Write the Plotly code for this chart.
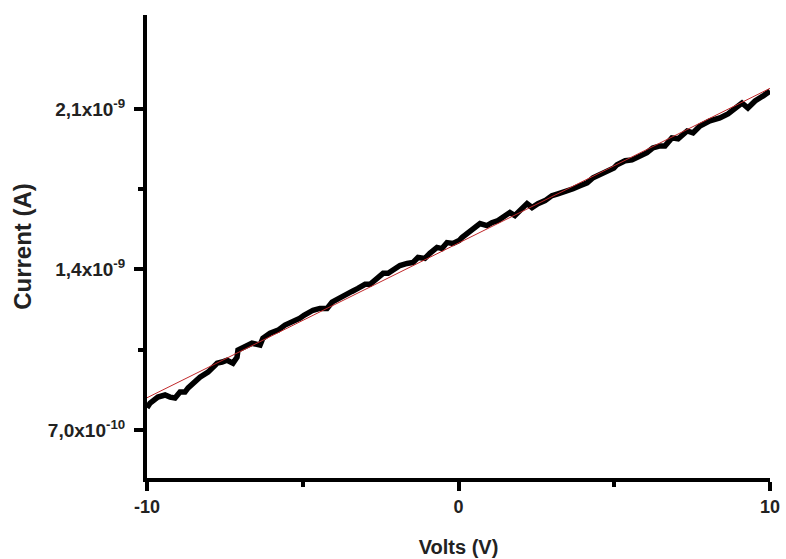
import plotly.graph_objects as go

# Measured I-V data (volts, current in A)
volts = [-10.0, -9.90, -9.65, -9.42, -9.26, -9.10, -8.94, -8.78, -8.68, -8.52,
         -8.30, -8.04, -7.75, -7.59, -7.43, -7.24, -7.11, -7.08, -6.85, -6.63,
         -6.37, -6.28, -6.05, -5.79, -5.57, -5.31, -5.09, -4.96, -4.86, -4.67,
         -4.45, -4.22, -4.06, -3.80, -3.58, -3.42, -3.23, -3.00, -2.84, -2.62,
         -2.42, -2.26, -2.10, -1.88, -1.65, -1.46, -1.30, -1.08, -0.92, -0.69,
         -0.53, -0.37, -0.18, 0.02, 0.11, 0.30, 0.47, 0.69, 0.91, 1.07,
         1.27, 1.49, 1.65, 1.81, 2.04, 2.20, 2.36, 2.55, 2.78, 3.00,
         3.19, 3.42, 3.68, 3.90, 4.13, 4.32, 4.61, 4.80, 4.99, 5.09,
         5.35, 5.57, 5.83, 6.05, 6.24, 6.47, 6.63, 6.85, 7.05, 7.34,
         7.53, 7.75, 8.07, 8.39, 8.65, 8.88, 9.10, 9.29, 9.52, 9.78, 10.0]
current_nA = [0.796, 0.817, 0.843, 0.852, 0.843, 0.839, 0.865, 0.865, 0.883, 0.904,
              0.930, 0.952, 0.991, 0.996, 1.004, 0.991, 1.017, 1.048, 1.061, 1.078,
              1.070, 1.100, 1.122, 1.135, 1.157, 1.170, 1.187, 1.200, 1.209, 1.222,
              1.230, 1.230, 1.257, 1.274, 1.287, 1.304, 1.317, 1.335, 1.335, 1.361,
              1.383, 1.383, 1.396, 1.417, 1.426, 1.430, 1.452, 1.448, 1.470, 1.496,
              1.491, 1.517, 1.513, 1.526, 1.539, 1.561, 1.578, 1.600, 1.591, 1.604,
              1.613, 1.635, 1.648, 1.635, 1.665, 1.687, 1.670, 1.687, 1.700, 1.722,
              1.730, 1.739, 1.752, 1.765, 1.778, 1.800, 1.817, 1.830, 1.843, 1.857,
              1.874, 1.878, 1.896, 1.909, 1.930, 1.939, 1.939, 1.974, 1.970, 2.004,
              1.996, 2.026, 2.048, 2.061, 2.078, 2.100, 2.126, 2.104, 2.135, 2.157, 2.178]
current = [v * 1e-9 for v in current_nA]

# Linear fit endpoints
fit_volts = [-10.0, 10.0]
fit_current = [0.84e-9, 2.19e-9]

# Axis ticks
x_ticks = [-10, 0, 10]
x_minor = [-5, 5]
y_ticks = [7.0e-10, 1.4e-9, 2.1e-9]
y_ticktext = ["7,0x10<sup>-10</sup>", "1,4x10<sup>-9</sup>", "2,1x10<sup>-9</sup>"]
y_minor = [1.05e-9, 1.75e-9]

FONT = "Liberation Sans, Arial, sans-serif"

fig = go.Figure()
fig.add_trace(go.Scatter(x=volts, y=current, mode="lines",
                         line=dict(color="black", width=5.5), showlegend=False))
fig.add_trace(go.Scatter(x=fit_volts, y=fit_current, mode="lines",
                         line=dict(color="#c0282a", width=1), showlegend=False))

fig.update_layout(
    width=786, height=559,
    margin=dict(l=147, r=16, t=15, b=81),
    paper_bgcolor="white", plot_bgcolor="white",
    font=dict(family=FONT, color="#222"),
)
fig.update_xaxes(
    range=[-10, 10], showgrid=False, zeroline=False, automargin=False,
    showline=True, linecolor="black", linewidth=4,
    ticks="outside", ticklen=9, tickwidth=4, tickcolor="black",
    tickvals=x_ticks, ticktext=["<b>%d</b>" % v for v in x_ticks],
    tickfont=dict(family=FONT, size=18, color="#222"),
    minor=dict(tickvals=x_minor, ticks="outside", ticklen=5, tickwidth=4, tickcolor="black"),
    title=dict(text="<b>Volts (V)</b>", font=dict(size=20, family=FONT, color="#222"), standoff=25),
)
fig.update_yaxes(
    range=[0.49e-9, 2.51e-9], showgrid=False, zeroline=False, automargin=False,
    showline=True, linecolor="black", linewidth=4,
    ticks="outside", ticklen=9, tickwidth=4, tickcolor="black",
    tickvals=y_ticks, ticktext=["<b>%s</b>" % t for t in y_ticktext],
    tickfont=dict(family=FONT, size=19, color="#222"),
    ticklabelstandoff=5,
    minor=dict(tickvals=y_minor, ticks="outside", ticklen=5, tickwidth=4, tickcolor="black"),
    title=dict(text="<b>Current (A)</b>", font=dict(size=24, family=FONT, color="#222"), standoff=10),
)

# remove the browser's default 8px body margin so the figure fills the window exactly
fig.write_html("out.html",
               config={"displayModeBar": False},
               post_script="document.body.style.margin='0';document.body.style.overflow='hidden';")
